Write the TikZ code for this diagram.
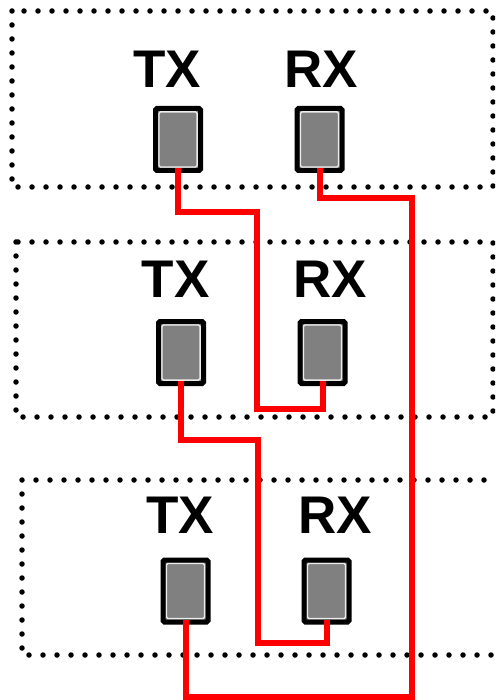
\documentclass[tikz,border=0pt]{standalone}
\usepackage{fontspec}
\setmainfont{Liberation Sans}
\usepackage{tikz}
\usetikzlibrary{positioning,calc}
\definecolor{wire}{HTML}{FF0000}
\definecolor{pad}{HTML}{808080}

\begin{document}
\begin{tikzpicture}[x=1pt,y=-1pt,
 unit/.style={draw=black,line width=5.5pt,dash pattern=on 0pt off 14pt,line cap=round},
 chip/.style={draw=black,line width=5pt,fill=pad,rounded corners=1.5pt,inner sep=0pt,
 minimum width=45pt,minimum height=62pt,
 path picture={\draw[white!85!pad,line width=1.4pt]
 ([shift={(3.4pt,-3.4pt)}]path picture bounding box.north west) rectangle
 ([shift={(-3.4pt,3.4pt)}]path picture bounding box.south east);}},
 tag/.style={anchor=base,inner sep=0pt,font=\fontsize{53}{60}\selectfont\bfseries},
 link/.style={draw=wire,line width=6pt,line join=miter}]
\clip (0,0) rectangle (495,700);
% three stations
\draw[unit] (12,11) rectangle (493,187);
\draw[unit] (16,242) rectangle (493,417);
\draw[unit] (22,480) rectangle (505,655);
\node[chip] (tx1) at (178,139.5) {};
\node[chip] (rx1) at (319.5,139.5) {};
\node[chip] (tx2) at (181,352.5) {};
\node[chip] (rx2) at (322.5,352.5) {};
\node[chip] (tx3) at (185.5,591) {};
\node[chip] (rx3) at (326.5,591) {};
\node[tag] (ltx1) at (167,88) {TX};
\node[tag] (lrx1) at (321,88) {RX};
\node[tag] (ltx2) at (175.5,297) {TX};
\node[tag] (lrx2) at (330.5,297) {RX};
\node[tag] (ltx3) at (180,533) {TX};
\node[tag] (lrx3) at (335,533) {RX};
% ring of links
\draw[link] ([yshift=5pt]tx1.south) |- (257,212) -- (257,409) -| ([yshift=5pt]rx2.south);
\draw[link] ([yshift=5pt]tx2.south) |- (258,440) -- (258,643) -| ([yshift=5pt]rx3.south);
\draw[link] ([yshift=5pt]rx1.south) |- (412,198) -- (412,697) -| ([yshift=5pt]tx3.south);
\end{tikzpicture}
\end{document}
